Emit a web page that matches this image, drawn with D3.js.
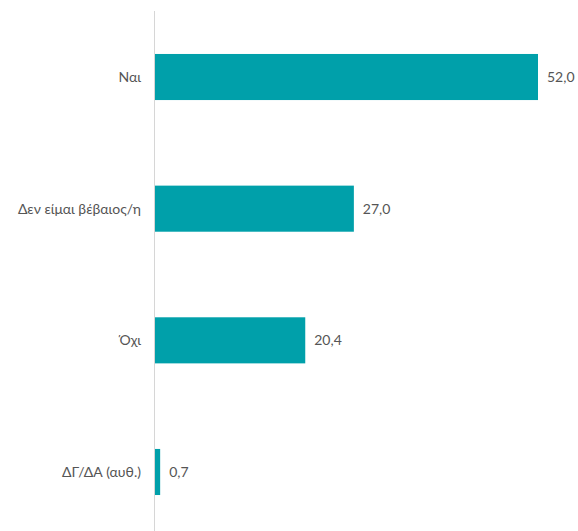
<!DOCTYPE html>
<html>
<head>
<meta charset="utf-8">
<script src="https://cdn.jsdelivr.net/npm/d3@7"></script>
<style>
  body { margin: 0; background: #fff; }
  text { font-family: Lato, "Noto Sans", sans-serif; }
</style>
</head>
<body>
<div id="chart-area"></div>
<script>
const categories = ["Ναι", "Δεν είμαι βέβαιος/η", "Όχι", "ΔΓ/ΔΑ (αυθ.)"];
const values = [52.0, 27.0, 20.4, 0.7];

const width = 578, height = 531;
const left = 155;

const svg = d3.select("#chart-area")
    .append("svg")
    .attr("width", width)
    .attr("height", height);

const x = d3.scaleLinear()
    .domain([0, 52])
    .range([left, 538]);

const y = d3.scaleBand()
    .domain(categories)
    .range([15, 534])
    .paddingInner(0.65)
    .paddingOuter(0.296);

// axis line
svg.append("line")
    .attr("x1", left - 0.5).attr("x2", left - 0.5)
    .attr("y1", 11).attr("y2", height)
    .attr("stroke", "#d6d6d6")
    .attr("stroke-width", 1);

svg.selectAll("rect.bar")
    .data(values)
    .enter()
    .append("rect")
    .attr("class", "bar")
    .attr("x", x(0))
    .attr("y", (d, i) => y(categories[i]))
    .attr("width", d => x(d) - x(0))
    .attr("height", y.bandwidth())
    .attr("fill", "#00a0aa");

// category labels
svg.selectAll("text.cat")
    .data(categories)
    .enter()
    .append("text")
    .attr("class", "cat")
    .attr("x", 141)
    .attr("y", d => y(d) + y.bandwidth() / 2)
    .attr("dy", "0.35em")
    .attr("text-anchor", "end")
    .attr("font-size", "14px")
    .attr("fill", "#555")
    .text(d => d);

// value labels
svg.selectAll("text.val")
    .data(values)
    .enter()
    .append("text")
    .attr("class", "val")
    .attr("x", d => x(d) + 9)
    .attr("y", (d, i) => y(categories[i]) + y.bandwidth() / 2)
    .attr("dy", "0.35em")
    .attr("font-size", "14px")
    .attr("fill", "#555")
    .text(d => d.toFixed(1).replace(".", ","));
</script>
</body>
</html>
